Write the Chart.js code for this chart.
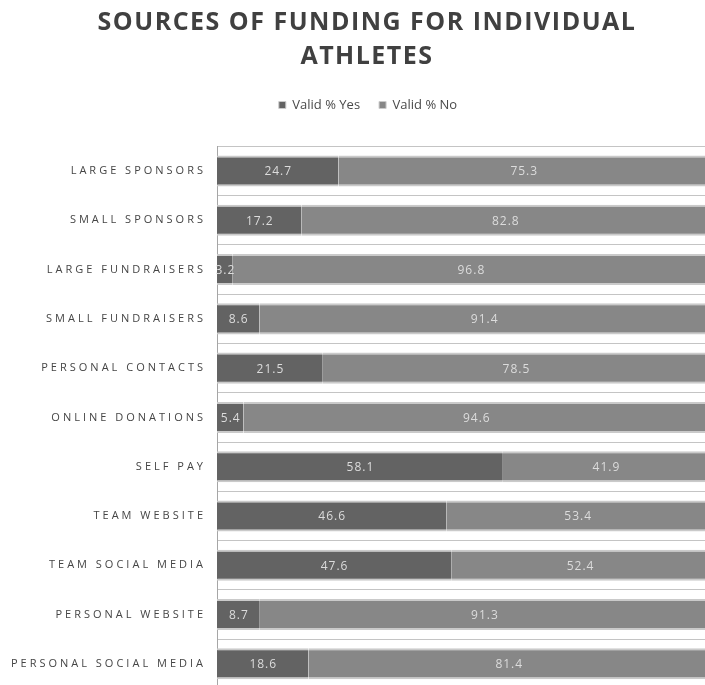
<!DOCTYPE html>
<html>
<head>
<meta charset="utf-8">
<script src="https://cdn.jsdelivr.net/npm/chart.js@4.4.0/dist/chart.umd.min.js"></script>
<style>
  html, body { margin: 0; padding: 0; background: #fff; overflow: hidden; }
  canvas { display: block; }
</style>
</head>
<body>
<canvas id="chart" width="735" height="706"></canvas>
<script>
const titleLines = ['SOURCES OF FUNDING FOR INDIVIDUAL', 'ATHLETES'];
const categories = [
  'LARGE SPONSORS', 'SMALL SPONSORS', 'LARGE FUNDRAISERS', 'SMALL FUNDRAISERS',
  'PERSONAL CONTACTS', 'ONLINE DONATIONS', 'SELF PAY', 'TEAM WEBSITE',
  'TEAM SOCIAL MEDIA', 'PERSONAL WEBSITE', 'PERSONAL SOCIAL MEDIA'
];
const validYes = [24.7, 17.2, 3.2, 8.6, 21.5, 5.4, 58.1, 46.6, 47.6, 8.7, 18.6];
const validNo = [75.3, 82.8, 96.8, 91.4, 78.5, 94.6, 41.9, 53.4, 52.4, 91.3, 81.4];

// title, value labels and spaced-out axis labels
const extras = {
  id: 'extras',
  afterLayout: chart => {
    chart.legend.left += 11;
    chart.legend.right += 11;
  },
  afterDatasetsDraw: chart => {
    const ctx = chart.ctx;
    ctx.save();
    ctx.font = '12px "Open Sans"';
    ctx.fillStyle = '#dcdcdc';
    ctx.textAlign = 'center';
    ctx.textBaseline = 'middle';
    ctx.letterSpacing = '1px';
    chart.data.datasets.forEach((ds, i) => {
      chart.getDatasetMeta(i).data.forEach((bar, j) => {
        ctx.fillText(ds.data[j].toFixed(1), (bar.x + bar.base) / 2 + 0.5, bar.y + 1);
      });
    });
    ctx.restore();
    // y tick labels are drawn after this (ticks.z = 1)
    ctx.letterSpacing = '3px';
  },
  afterDraw: chart => {
    const ctx = chart.ctx;
    ctx.letterSpacing = '0px';
    ctx.save();
    ctx.font = 'bold 25px "Open Sans"';
    ctx.fillStyle = '#404040';
    ctx.textAlign = 'center';
    ctx.textBaseline = 'alphabetic';
    ctx.letterSpacing = '1.5px';
    ctx.fillText(titleLines[0], 367, 30);
    ctx.fillText(titleLines[1], 367, 63.5);
    ctx.restore();
  }
};

const barBorder = { top: 2, bottom: 2, left: 0, right: 0 };

new Chart(document.getElementById('chart'), {
  type: 'bar',
  plugins: [extras],
  data: {
    labels: categories,
    datasets: [{
      label: 'Valid % Yes',
      data: validYes,
      backgroundColor: '#636363',
      borderColor: '#cacaca',
      borderWidth: barBorder,
      borderSkipped: false,
      categoryPercentage: 1,
      barPercentage: 0.63
    }, {
      label: 'Valid % No',
      data: validNo,
      backgroundColor: '#878787',
      borderColor: '#cacaca',
      borderWidth: barBorder,
      borderSkipped: false,
      categoryPercentage: 1,
      barPercentage: 0.63
    }]
  },
  options: {
    indexAxis: 'y',
    responsive: false,
    devicePixelRatio: 1,
    animation: false,
    layout: {
      padding: { top: 79.5, left: 5, right: 26, bottom: 7.4 }
    },
    plugins: {
      title: { display: false },
      tooltip: { enabled: false },
      legend: {
        position: 'top',
        labels: {
          boxWidth: 7,
          boxHeight: 7,
          padding: 19,
          color: '#4a4a4a',
          font: { family: 'Open Sans', size: 13 }
        }
      }
    },
    scales: {
      x: {
        position: 'top',
        stacked: true,
        min: 0,
        max: 100,
        ticks: { display: false },
        grid: { display: false },
        border: { display: false },
        afterFit: s => { s.height = 24.9; }
      },
      y: {
        stacked: true,
        grid: {
          color: '#c4c4c4',
          lineWidth: 1,
          drawTicks: false,
          offset: true
        },
        border: { color: '#a6a6a6', width: 1 },
        ticks: {
          z: 1,
          padding: 11,
          color: '#454545',
          font: { family: 'Open Sans', size: 11 }
        },
        afterFit: s => { s.width = 212; }
      }
    }
  }
});
</script>
</body>
</html>
